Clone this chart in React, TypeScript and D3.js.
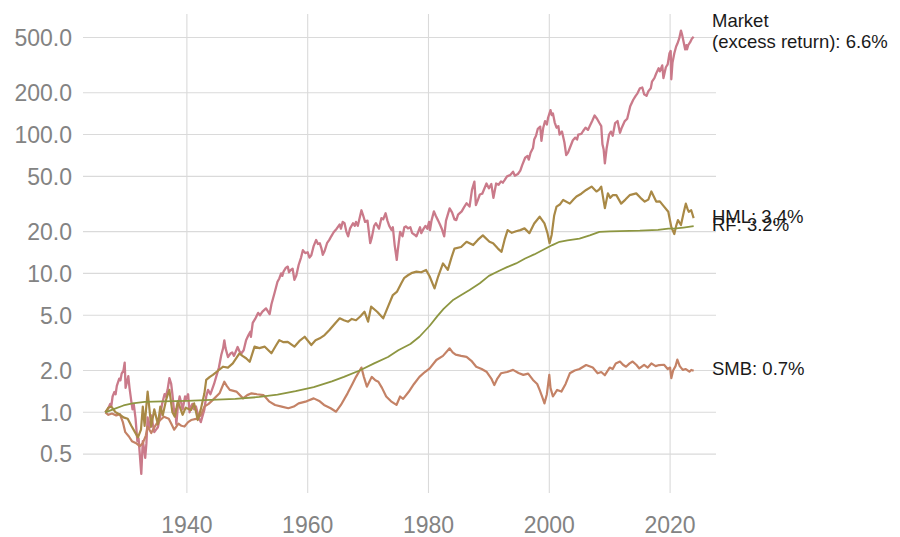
import React from 'react';
import * as d3 from 'd3';

// ---- Data (year, cumulative growth of $1) ----
const MARKET: [number, number][] = [
  [1926.5, 1.0], [1926.9, 1.05], [1927.3, 1.15], [1927.5, 1.12], [1927.7, 1.3], [1928.0, 1.4], [1928.2, 1.35],
  [1928.4, 1.55], [1928.8, 1.75], [1929.0, 1.7], [1929.2, 1.9], [1929.5, 2.0], [1929.7, 2.28], [1929.85, 1.5],
  [1930.0, 1.6], [1930.3, 1.82], [1930.5, 1.5], [1930.8, 1.2], [1931.0, 1.05], [1931.2, 1.15], [1931.5, 0.9],
  [1931.8, 0.62], [1932.0, 0.65], [1932.2, 0.5], [1932.45, 0.36], [1932.55, 0.45], [1932.7, 0.62], [1932.9, 0.55],
  [1933.1, 0.47], [1933.3, 0.6], [1933.5, 0.92], [1933.7, 0.8], [1933.9, 0.78], [1934.1, 0.95], [1934.2, 0.9],
  [1934.6, 0.72], [1934.9, 0.75], [1935.2, 0.78], [1935.6, 0.95], [1935.9, 1.15], [1936.3, 1.35], [1936.5, 1.3],
  [1936.8, 1.45], [1937.1, 1.76], [1937.4, 1.6], [1937.6, 1.35], [1937.9, 1.0], [1938.1, 1.05], [1938.25, 0.82],
  [1938.5, 1.1], [1938.8, 1.3], [1939.0, 1.2], [1939.3, 1.05], [1939.7, 1.3], [1939.9, 1.25], [1940.2, 1.35],
  [1940.45, 1.0], [1940.7, 1.1], [1940.9, 1.15], [1941.2, 1.05], [1941.5, 1.1], [1941.95, 0.92], [1942.3, 0.85],
  [1942.9, 1.05], [1943.2, 1.3], [1943.5, 1.45], [1943.9, 1.35], [1944.5, 1.6], [1945.0, 1.9], [1945.3, 2.1],
  [1945.7, 2.6], [1946.0, 2.9], [1946.2, 3.3], [1946.4, 2.9], [1946.8, 2.5], [1947.2, 2.65], [1947.5, 2.7],
  [1947.8, 2.55], [1948.4, 2.95], [1948.7, 2.75], [1949.0, 2.65], [1949.4, 2.8], [1949.8, 3.3], [1950.2, 3.6],
  [1950.5, 3.8], [1950.6, 3.5], [1950.9, 4.4], [1951.3, 4.7], [1951.8, 5.2], [1952.1, 5.0], [1952.5, 5.3],
  [1953.1, 5.6], [1953.7, 5.1], [1954.0, 6.0], [1954.5, 7.2], [1955.0, 8.7], [1955.3, 9.2], [1955.6, 10.0],
  [1955.8, 9.6], [1956.0, 10.3], [1956.4, 11.0], [1956.7, 11.2], [1956.9, 10.2], [1957.1, 10.5], [1957.5, 10.8],
  [1957.8, 9.0], [1958.1, 9.6], [1958.5, 11.5], [1958.9, 13.0], [1959.2, 14.7], [1959.6, 14.0], [1960.0, 14.2],
  [1960.3, 13.0], [1960.6, 13.5], [1961.0, 15.8], [1961.4, 17.4], [1961.7, 16.3], [1962.0, 16.5], [1962.3, 15.0],
  [1962.5, 13.6], [1962.8, 14.5], [1963.2, 16.5], [1963.6, 17.5], [1963.9, 18.5], [1964.3, 19.8], [1964.8, 21.0],
  [1965.3, 22.5], [1965.5, 21.0], [1965.8, 23.5], [1966.1, 23.0], [1966.4, 20.0], [1966.7, 18.5], [1967.0, 21.0],
  [1967.5, 23.0], [1967.8, 22.0], [1968.0, 23.5], [1968.3, 22.0], [1968.9, 28.5], [1969.2, 26.0], [1969.5, 23.5],
  [1969.9, 24.0], [1970.35, 16.5], [1970.6, 18.0], [1971.0, 22.0], [1971.3, 23.0], [1971.8, 21.0], [1972.2, 25.0],
  [1972.5, 24.5], [1972.9, 27.1], [1973.2, 24.0], [1973.5, 22.0], [1973.9, 20.5], [1974.1, 21.5], [1974.4, 16.0],
  [1974.75, 12.5], [1974.9, 14.5], [1975.3, 19.9], [1975.7, 18.5], [1976.0, 21.5], [1976.3, 21.8], [1976.6, 21.1],
  [1977.0, 21.5], [1977.3, 19.5], [1977.7, 19.0], [1978.0, 18.5], [1978.6, 21.5], [1978.8, 19.5], [1979.2, 21.0],
  [1979.5, 22.0], [1979.8, 21.0], [1980.1, 23.5], [1980.25, 20.5], [1980.5, 24.0], [1980.9, 28.0], [1981.2, 26.0],
  [1981.6, 24.0], [1981.9, 22.5], [1982.2, 21.0], [1982.6, 18.5], [1982.9, 24.0], [1983.5, 29.4], [1983.9, 27.5],
  [1984.3, 24.5], [1984.6, 24.2], [1984.9, 26.5], [1985.5, 28.0], [1985.9, 30.0], [1986.3, 32.0], [1986.8, 30.3],
  [1987.2, 40.0], [1987.6, 45.8], [1987.85, 31.0], [1988.2, 34.0], [1988.5, 37.0], [1988.9, 37.5], [1989.6, 44.4],
  [1990.0, 41.0], [1990.4, 44.0], [1990.75, 35.0], [1991.2, 44.4], [1991.6, 43.5], [1992.0, 46.0], [1992.3, 45.0],
  [1992.6, 47.0], [1993.0, 50.0], [1993.5, 51.0], [1994.0, 54.0], [1994.3, 50.5], [1994.8, 52.0], [1995.2, 55.0],
  [1995.5, 60.0], [1996.0, 68.0], [1996.4, 70.0], [1996.6, 66.0], [1996.9, 74.0], [1997.3, 80.0], [1997.5, 92.0],
  [1997.8, 98.0], [1998.1, 110], [1998.5, 114], [1998.7, 90.0], [1999.0, 112], [1999.3, 125], [1999.6, 118],
  [1999.8, 132], [2000.2, 150], [2000.4, 138], [2000.6, 142], [2000.9, 122], [2001.2, 112], [2001.5, 115],
  [2001.7, 100], [2002.1, 105], [2002.5, 88.0], [2002.8, 71.0], [2003.1, 74.0], [2003.4, 80.0], [2003.9, 91.0],
  [2004.3, 95.0], [2004.6, 92.0], [2004.8, 100], [2005.3, 101], [2005.6, 106], [2006.0, 112], [2006.4, 108],
  [2006.7, 115], [2007.1, 125], [2007.5, 137], [2007.9, 130], [2008.3, 121], [2008.6, 115], [2008.8, 85.0],
  [2009.0, 78.0], [2009.2, 62.0], [2009.5, 80.0], [2009.9, 100], [2010.2, 105], [2010.5, 98.0], [2010.9, 121],
  [2011.3, 125], [2011.7, 103], [2012.0, 112], [2012.5, 125], [2012.9, 130], [2013.4, 160], [2013.9, 178],
  [2014.3, 190], [2014.6, 198], [2015.0, 215], [2015.4, 218], [2015.7, 195], [2016.1, 190], [2016.4, 205],
  [2016.8, 215], [2017.0, 240], [2017.4, 255], [2017.7, 275], [2018.1, 300], [2018.3, 285], [2018.7, 315],
  [2018.9, 255], [2019.3, 305], [2019.6, 320], [2019.9, 385], [2020.1, 400], [2020.2, 250], [2020.4, 330],
  [2020.7, 385], [2021.0, 430], [2021.2, 450], [2021.5, 490], [2021.8, 560], [2022.0, 520], [2022.3, 450],
  [2022.5, 410], [2022.7, 440], [2022.8, 410], [2023.0, 440], [2023.3, 460], [2023.6, 490], [2023.9, 506],
];

const HML: [number, number][] = [
  [1926.5, 1.0], [1927.0, 1.08], [1927.5, 1.1], [1928.2, 1.0], [1928.8, 0.97], [1929.5, 0.92], [1930.2, 0.9],
  [1930.8, 0.8], [1931.4, 0.72], [1931.9, 0.66], [1932.4, 0.75], [1932.7, 1.1], [1933.0, 0.8], [1933.5, 1.41],
  [1934.1, 0.79], [1934.6, 1.05], [1935.2, 0.82], [1935.6, 1.1], [1936.0, 0.95], [1936.6, 1.25], [1937.1, 1.45],
  [1937.6, 1.0], [1938.0, 0.93], [1938.5, 1.2], [1939.3, 0.96], [1939.8, 1.08], [1940.7, 1.04], [1941.2, 1.16],
  [1941.8, 0.88], [1942.3, 1.05], [1942.9, 1.37], [1943.2, 1.71], [1943.8, 1.8], [1944.3, 1.86], [1945.2, 2.0],
  [1946.0, 2.13], [1946.8, 2.1], [1947.6, 2.25], [1948.7, 2.66], [1949.2, 2.55], [1949.8, 2.45], [1950.4, 2.31],
  [1951.2, 2.97], [1952.0, 2.9], [1952.9, 2.97], [1954.0, 2.66], [1954.7, 3.0], [1955.3, 3.31], [1956.0, 3.2],
  [1956.7, 3.22], [1957.8, 2.97], [1958.6, 3.25], [1959.5, 3.5], [1960.6, 3.05], [1961.3, 3.3], [1962.0, 3.41],
  [1962.8, 3.6], [1963.6, 3.91], [1964.6, 4.4], [1965.3, 4.75], [1966.0, 4.6], [1966.7, 4.49], [1967.3, 4.7],
  [1968.0, 4.6], [1968.7, 4.9], [1969.4, 5.3], [1970.0, 4.49], [1970.5, 5.76], [1971.5, 5.3], [1972.5, 4.75],
  [1973.3, 5.76], [1974.1, 6.99], [1974.8, 7.4], [1975.5, 8.5], [1976.0, 9.3], [1976.6, 9.7], [1977.3, 10.1],
  [1978.0, 10.3], [1978.8, 10.2], [1979.6, 10.6], [1980.2, 9.5], [1981.0, 7.8], [1981.6, 9.5], [1982.4, 11.8],
  [1983.2, 10.6], [1983.8, 13.0], [1984.3, 15.1], [1985.4, 15.5], [1986.3, 16.9], [1987.4, 16.0], [1988.2, 17.5],
  [1989.0, 18.8], [1990.1, 16.9], [1990.7, 16.5], [1991.5, 15.1], [1992.1, 14.3], [1992.6, 17.5], [1993.1, 20.5],
  [1993.8, 19.6], [1994.5, 20.1], [1995.2, 20.5], [1995.9, 21.1], [1996.7, 19.5], [1997.5, 22.9], [1998.4, 25.6],
  [1999.2, 22.9], [1999.7, 19.5], [2000.05, 16.5], [2000.4, 19.0], [2000.8, 26.0], [2001.2, 30.3], [2001.8, 31.5],
  [2002.3, 33.8], [2003.4, 31.8], [2004.0, 34.0], [2004.5, 35.8], [2005.3, 37.5], [2006.1, 39.9], [2007.0, 42.2],
  [2007.8, 38.9], [2008.2, 40.0], [2008.6, 42.2], [2009.2, 29.5], [2009.7, 37.7], [2010.1, 35.0], [2010.5, 36.6],
  [2011.1, 36.6], [2011.9, 31.8], [2012.6, 34.0], [2013.3, 36.6], [2014.4, 37.7], [2015.1, 35.0], [2015.8, 32.9],
  [2016.4, 34.0], [2016.9, 38.9], [2017.7, 32.9], [2018.3, 33.0], [2018.8, 31.0], [2019.7, 27.8], [2020.2, 21.6],
  [2020.7, 19.2], [2021.0, 22.0], [2021.3, 24.2], [2021.8, 22.3], [2022.3, 28.0], [2022.6, 31.8], [2022.9, 29.0],
  [2023.1, 27.8], [2023.5, 28.5], [2023.9, 25.0],
];

const RF: [number, number][] = [
  [1926.5, 1.0], [1928.0, 1.06], [1929.5, 1.12], [1931.0, 1.16], [1933.0, 1.19], [1936.0, 1.2], [1940.0, 1.21],
  [1944.0, 1.23], [1948.0, 1.25], [1952.0, 1.29], [1955.0, 1.34], [1958.0, 1.42], [1961.0, 1.52], [1964.0, 1.67],
  [1966.0, 1.8], [1968.6, 2.0], [1971.0, 2.25], [1973.3, 2.5], [1975.0, 2.8], [1977.0, 3.1], [1978.5, 3.5],
  [1980.2, 4.2], [1981.5, 4.95], [1982.5, 5.55], [1984.0, 6.4], [1985.7, 7.1], [1986.8, 7.6], [1988.5, 8.5],
  [1990.0, 9.6], [1991.8, 10.5], [1993.0, 11.1], [1994.5, 11.8], [1996.0, 12.8], [1997.5, 13.7], [1999.0, 14.8],
  [2000.5, 16.0], [2001.7, 16.9], [2003.0, 17.3], [2005.0, 17.8], [2006.7, 18.8], [2008.3, 19.9], [2010.0, 20.1],
  [2015.0, 20.3], [2018.0, 20.6], [2019.7, 21.0], [2021.0, 21.1], [2022.2, 21.4], [2023.9, 21.9],
];

const SMB: [number, number][] = [
  [1926.5, 1.0], [1927.0, 0.96], [1927.6, 0.98], [1928.3, 0.95], [1928.9, 0.97], [1929.4, 0.85], [1929.8, 0.72],
  [1930.4, 0.67], [1930.9, 0.62], [1931.6, 0.6], [1932.2, 0.57], [1932.7, 0.6], [1933.2, 0.68], [1933.5, 0.79],
  [1934.1, 0.71], [1934.6, 0.78], [1935.0, 0.83], [1935.6, 0.88], [1936.2, 0.93], [1937.0, 0.9], [1937.4, 0.83],
  [1937.9, 0.75], [1938.6, 0.83], [1939.1, 0.8], [1939.6, 0.79], [1940.2, 0.85], [1940.7, 0.88], [1941.7, 0.9],
  [1942.3, 0.95], [1942.9, 1.1], [1943.6, 1.15], [1944.3, 1.23], [1945.4, 1.37], [1946.2, 1.66], [1946.6, 1.55],
  [1947.1, 1.45], [1948.2, 1.41], [1949.3, 1.26], [1950.0, 1.33], [1950.7, 1.37], [1951.6, 1.35], [1952.7, 1.33],
  [1953.6, 1.2], [1954.6, 1.13], [1955.7, 1.1], [1956.8, 1.07], [1957.7, 1.1], [1958.5, 1.16], [1959.8, 1.2],
  [1961.0, 1.26], [1962.0, 1.2], [1962.7, 1.13], [1963.8, 1.07], [1964.7, 1.01], [1965.5, 1.13], [1966.6, 1.37],
  [1967.4, 1.6], [1968.0, 1.8], [1968.9, 2.1], [1969.3, 1.8], [1969.8, 1.53], [1970.6, 1.8], [1971.2, 1.7],
  [1971.7, 1.66], [1972.3, 1.5], [1973.0, 1.3], [1973.8, 1.2], [1974.7, 1.13], [1975.3, 1.3], [1975.8, 1.25],
  [1976.7, 1.4], [1977.6, 1.6], [1978.5, 1.8], [1979.4, 1.95], [1980.2, 2.07], [1981.3, 2.38], [1982.4, 2.55],
  [1983.5, 2.89], [1984.0, 2.7], [1984.5, 2.6], [1985.4, 2.55], [1986.3, 2.51], [1987.1, 2.35], [1987.9, 2.13],
  [1988.8, 2.05], [1989.6, 1.96], [1990.4, 1.75], [1990.9, 1.57], [1991.4, 1.75], [1992.0, 1.91], [1993.0, 1.95],
  [1994.0, 2.02], [1994.9, 1.92], [1995.7, 1.86], [1996.5, 1.9], [1997.3, 1.71], [1998.0, 1.6], [1998.4, 1.45],
  [1998.8, 1.3], [1999.2, 1.16], [1999.6, 1.35], [2000.0, 1.86], [2000.2, 1.5], [2000.6, 1.3], [2001.3, 1.45],
  [2002.0, 1.41], [2002.7, 1.6], [2003.4, 1.91], [2004.2, 2.0], [2005.0, 2.05], [2006.1, 2.19], [2007.2, 2.1],
  [2008.0, 1.91], [2008.6, 1.95], [2009.2, 1.85], [2010.0, 2.1], [2010.5, 2.05], [2011.0, 2.25], [2011.7, 2.32],
  [2012.2, 2.2], [2012.7, 2.13], [2013.3, 2.25], [2013.8, 2.32], [2014.4, 2.2], [2014.9, 2.07], [2015.7, 2.2],
  [2016.3, 2.1], [2016.9, 2.25], [2017.6, 2.15], [2018.2, 2.19], [2019.0, 2.2], [2019.6, 2.05], [2020.0, 2.1],
  [2020.2, 1.76], [2020.5, 2.0], [2020.9, 2.15], [2021.2, 2.4], [2021.6, 2.15], [2022.1, 2.02], [2022.6, 2.05],
  [2023.2, 1.96], [2023.5, 2.02], [2023.9, 1.99],
];

const SERIES_NAMES = ['Market', 'SMB', 'HML', 'RF'];
const SERIES_LABELS = [['Market', '(excess return): 6.6%'], ['SMB: 0.7%'], ['HML: 3.4%'], ['RF: 3.2%']];
const SERIES_DATA = [MARKET, SMB, HML, RF];
const SERIES_COLORS = ['#CA7A8A', '#C48266', '#A98946', '#8D9641'];
const SERIES_WIDTHS = [2.3, 2.2, 2.2, 1.8];

const Y_TICKS = [0.5, 1, 2, 5, 10, 20, 50, 100, 200, 500];
const Y_LIMITS: [number, number] = [0.2625, 737.5];
const X_TICKS = [1940, 1960, 1980, 2000, 2020];
const X_PAD_YEARS = 3.7;

const W = 900;
const H = 537;
const M = { left: 83, right: 184, top: 14, bottom: 44 };

export default function App() {
  const allYears = SERIES_DATA.flat().map((d) => d[0]);
  const x = d3
    .scaleLinear()
    .domain([d3.min(allYears)! - X_PAD_YEARS, d3.max(allYears)! + X_PAD_YEARS])
    .range([M.left, W - M.right]);
  const y = d3.scaleLog().domain(Y_LIMITS).range([H - M.bottom, M.top]);
  const line = d3
    .line<[number, number]>()
    .x((d) => x(d[0]))
    .y((d) => y(d[1]));

  const font = '"Liberation Sans", Arial, Helvetica, sans-serif';
  const labelSize = 18.5;

  return (
    <svg
      width={W}
      height={H}
      style={{ position: 'absolute', left: 0, top: 0, background: '#fff' }}
      fontFamily={font}
    >
      {Y_TICKS.map((t) => (
        <line key={'h' + t} x1={M.left} x2={W - M.right} y1={y(t)} y2={y(t)} stroke="#dadada" strokeWidth={1.1} />
      ))}
      {X_TICKS.map((t) => (
        <line key={'v' + t} x1={x(t)} x2={x(t)} y1={M.top} y2={H - M.bottom} stroke="#dadada" strokeWidth={1.1} />
      ))}
      {Y_TICKS.map((t) => (
        <text key={'yl' + t} x={72} y={y(t)} dy="0.36em" textAnchor="end" fontSize={23} fill="#838383">
          {d3.format('.1f')(t)}
        </text>
      ))}
      {X_TICKS.map((t) => (
        <text key={'xl' + t} x={x(t)} y={533} textAnchor="middle" fontSize={23} fill="#838383">
          {t}
        </text>
      ))}
      {SERIES_DATA.map((data, i) => (
        <path
          key={SERIES_NAMES[i]}
          d={line(data) || ''}
          fill="none"
          stroke={SERIES_COLORS[i]}
          strokeWidth={SERIES_WIDTHS[i]}
          strokeLinejoin="round"
        />
      ))}
      {SERIES_DATA.map((data, i) => {
        const last = data[data.length - 1];
        const lines = SERIES_LABELS[i];
        const y0 = y(last[1]) + labelSize * 0.25 - (lines.length - 1) * labelSize * 0.75;
        return (
          <text key={'lab' + i} x={712} y={y0} fontSize={labelSize} fill="#1a1a1a">
            {lines.map((s, j) => (
              <tspan key={j} x={712} dy={j === 0 ? 0 : 21}>
                {s}
              </tspan>
            ))}
          </text>
        );
      })}
    </svg>
  );
}
